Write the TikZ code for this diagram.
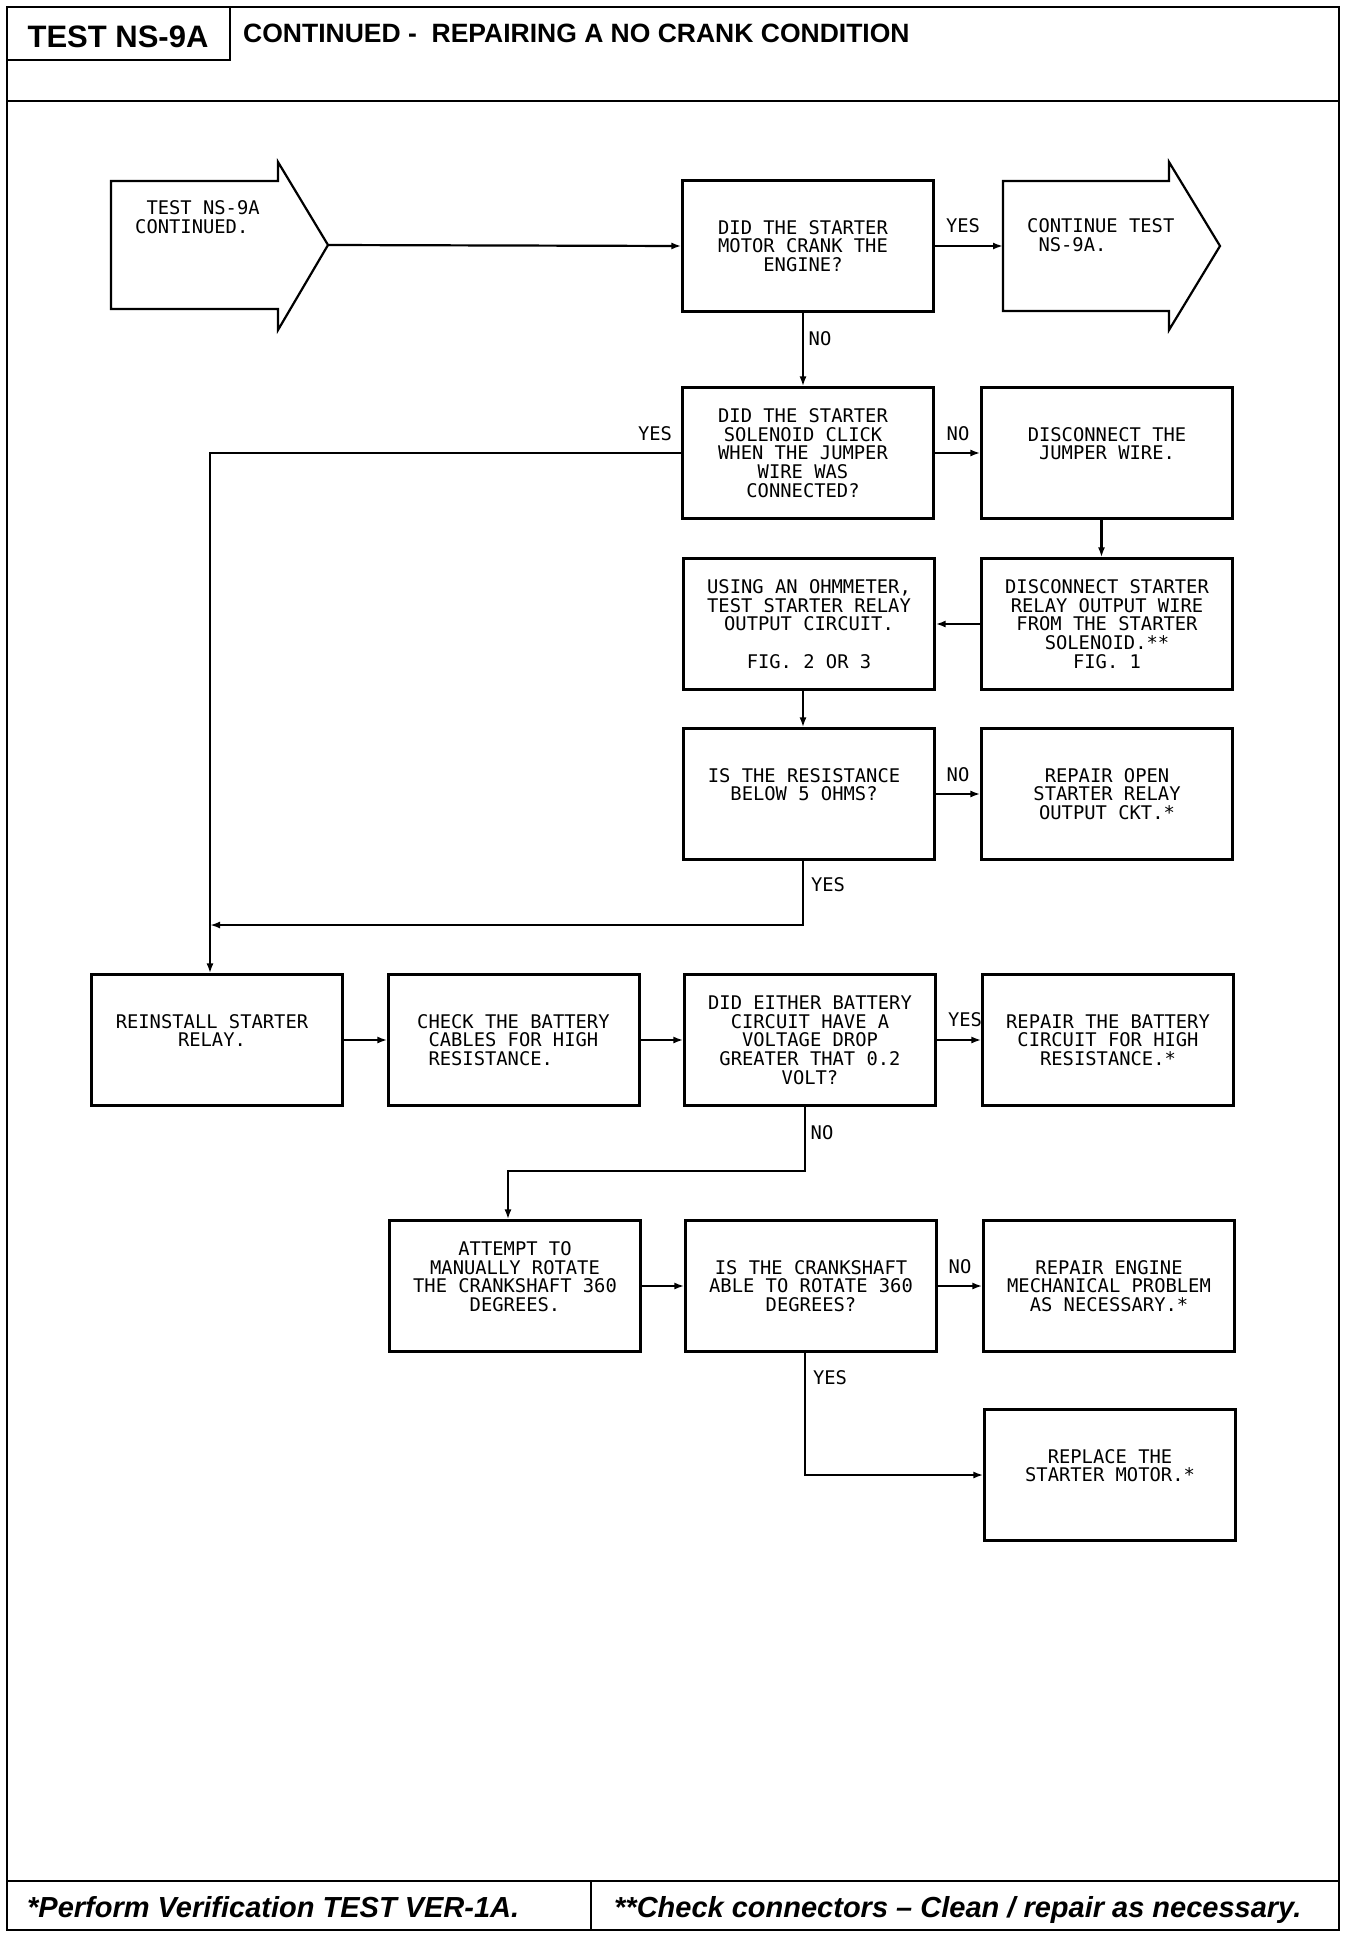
\documentclass[tikz,border=0pt]{standalone}
\usepackage{fontspec}
\setmainfont{Liberation Sans}
\newfontfamily\plotfont{DejaVu Sans Mono}
\usetikzlibrary{arrows.meta}
\begin{document}
\begin{tikzpicture}[x=1pt,y=-1pt,
  box/.style={draw, line width=2.2pt, minimum width=251pt, minimum height=131pt, inner sep=0pt},
  txt/.style={font=\plotfont\fontsize{18.8}{18.7}\selectfont, align=center, inner sep=0pt},
  lbl/.style={font=\plotfont\fontsize{18.8}{18.7}\selectfont, inner sep=0pt},
  arr/.style={line width=2.2pt, -{Latex[length=10pt,width=7pt]}},
  ln/.style={line width=2.2pt, line join=miter},
  frame/.style={line width=2.6pt},
  head/.style={font=\bfseries, inner sep=0pt},
  foot/.style={font=\bfseries\itshape\fontsize{29}{29}\selectfont, inner sep=0pt, anchor=base west},
]
\useasboundingbox[fill=white] (0,0) rectangle (1360,1938);

% frame, header and footer
\draw[frame] (7,7) rectangle (1339,1930);
\draw[frame] (7,101) -- (1339,101);
\draw[frame] (7,7) rectangle (230,60);
\draw[frame] (7,1881) -- (1339,1881);
\draw[frame] (591,1881) -- (591,1930);
\node[head, font=\bfseries\fontsize{31}{31}\selectfont, anchor=base] (title) at (118,47) {TEST NS-9A};
\node[head, font=\bfseries\fontsize{26.5}{26.5}\selectfont, anchor=base west] (sub) at (243,42) {CONTINUED -\ \ REPAIRING A NO CRANK CONDITION};
\node[foot] (f1) at (27,1917) {*Perform Verification TEST VER-1A.};
\node[foot] (f2) at (614,1917) {**Check connectors -- Clean / repair as necessary.};

% start arrow
\draw[ln] (111,181) -- (278,181) -- (278,162) -- (328,245) -- (278,330) -- (278,309) -- (111,309) -- cycle;
\coordinate (stip) at (328,245);
\node[txt, align=left, anchor=west] (st) at (135,217.5) {\hspace*{11.3pt}TEST NS-9A\\CONTINUED.};

% continue arrow
\draw[ln] (1003,181) -- (1169,181) -- (1169,162) -- (1220,246) -- (1169,330) -- (1169,311) -- (1003,311) -- cycle;
\coordinate (ctail) at (1003,246);
\node[txt, align=left, anchor=west] (ct) at (1027,235) {CONTINUE TEST\\\hspace*{11.3pt}NS-9A.};

% boxes
\node[box] (q1) at (808,246) {};
\node[box] (q2) at (808,453) {};
\node[box] (dj) at (1107,453) {};
\node[box] (ohm) at (809,624) {};
\node[box] (ds) at (1107,624) {};
\node[box] (res) at (809,794) {};
\node[box] (ro) at (1107,794) {};
\node[box] (rein) at (217,1040) {};
\node[box] (chk) at (514,1040) {};
\node[box] (de) at (810,1040) {};
\node[box] (rb) at (1108,1040) {};
\node[box] (att) at (515,1286) {};
\node[box] (cr) at (811,1286) {};
\node[box] (re) at (1109,1286) {};
\node[box] (rep) at (1110,1475) {};

% box texts
\node[txt] (q1t) at ([xshift=-5pt]q1.center) {DID THE STARTER\\MOTOR CRANK THE\\ENGINE?};
\node[txt] (q2t) at ([xshift=-5pt]q2.center) {DID THE STARTER\\SOLENOID CLICK\\WHEN THE JUMPER\\WIRE WAS\\CONNECTED?};
\node[txt] (djt) at ([yshift=9.35pt]dj.center) {DISCONNECT THE\\JUMPER WIRE.};
\node[txt] (ohmt) at (ohm.center) {USING AN OHMMETER,\\TEST STARTER RELAY\\OUTPUT CIRCUIT.\\[18.7pt]FIG. 2 OR 3};
\node[txt] (dst) at (ds.center) {DISCONNECT STARTER\\RELAY OUTPUT WIRE\\FROM THE STARTER\\SOLENOID.**\\FIG. 1};
\node[txt] (rest) at ([xshift=-5pt,yshift=9.35pt]res.center) {IS THE RESISTANCE\\BELOW 5 OHMS?};
\node[txt] (rot) at (ro.center) {REPAIR OPEN\\STARTER RELAY\\OUTPUT CKT.*};
\node[txt] (reint) at ([xshift=-5pt,yshift=9.35pt]rein.center) {REINSTALL STARTER\\RELAY.};
\node[txt, align=left, anchor=west] (chkt) at (417,1040) {CHECK THE BATTERY\\\hspace*{11.3pt}CABLES FOR HIGH\\\hspace*{11.3pt}RESISTANCE.};
\node[txt] (det) at (de.center) {DID EITHER BATTERY\\CIRCUIT HAVE A\\VOLTAGE DROP\\GREATER THAT 0.2\\VOLT?};
\node[txt] (rbt) at (rb.center) {REPAIR THE BATTERY\\CIRCUIT FOR HIGH\\RESISTANCE.*};
\node[txt] (attt) at ([yshift=9.35pt]att.center) {ATTEMPT TO\\MANUALLY ROTATE\\THE CRANKSHAFT 360\\DEGREES.};
\node[txt] (crt) at (cr.center) {IS THE CRANKSHAFT\\ABLE TO ROTATE 360\\DEGREES?};
\node[txt] (ret) at (re.center) {REPAIR ENGINE\\MECHANICAL PROBLEM\\AS NECESSARY.*};
\node[txt] (rept) at ([yshift=9.35pt]rep.center) {REPLACE THE\\STARTER MOTOR.*};

% labels
\node[lbl] (y1) at (963,226) {YES};
\node[lbl] (n1) at (820,339) {NO};
\node[lbl] (y2) at (655,434) {YES};
\node[lbl] (n2) at (958,434) {NO};
\node[lbl] (n3) at (958,775) {NO};
\node[lbl] (y3) at (828,885) {YES};
\node[lbl] (y4) at (965,1020) {YES};
\node[lbl] (n4) at (822,1133) {NO};
\node[lbl] (n5) at (960,1267) {NO};
\node[lbl] (y5) at (830,1378) {YES};

% connectors
\coordinate (j1) at (210,925);
\draw[arr] (stip) -- (q1.west);
\draw[arr] (q1.east) -- (ctail);
\draw[arr] ([xshift=-5pt]q1.south) -- ([xshift=-5pt]q2.north);
\draw[arr] (q2.west) -| ([xshift=-7pt]rein.north);
\draw[arr] (q2.east) -- (dj.west);
\draw[arr] ([xshift=-5.5pt]dj.south) -- ([xshift=-5.5pt]ds.north);
\draw[arr] (ds.west) -- (ohm.east);
\draw[arr] ([xshift=-6pt]ohm.south) -- ([xshift=-6pt]res.north);
\draw[arr] (res.east) -- (ro.west);
\draw[arr] ([xshift=-6pt]res.south) |- (j1);
\draw[arr] (rein.east) -- (chk.west);
\draw[arr] (chk.east) -- (de.west);
\draw[arr] (de.east) -- (rb.west);
\draw[arr] ([xshift=-5pt]de.south) -- ++(0,64) -| ([xshift=-7pt]att.north);
\draw[arr] (att.east) -- (cr.west);
\draw[arr] (cr.east) -- (re.west);
\draw[arr] ([xshift=-6pt]cr.south) |- (rep.west);
\end{tikzpicture}
\end{document}
